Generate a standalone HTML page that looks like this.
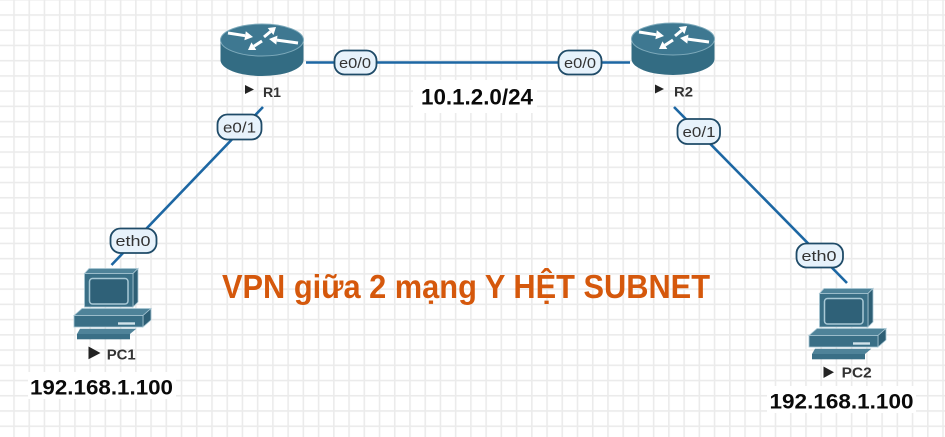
<!DOCTYPE html>
<html>
<head>
<meta charset="utf-8">
<style>
  html, body { margin:0; padding:0; background:#fff; }
  body { width:945px; height:437px; overflow:hidden; }
  svg { display:block; }
  .pill { fill:#e7f2fb; stroke:#1f4b68; stroke-width:1.8; }
  .ptxt { font-family:"Liberation Sans", sans-serif; font-size:15px; fill:#333; }
  .lbl { font-family:"Liberation Sans", sans-serif; font-weight:bold; fill:#333; }
  .ip { font-family:"Liberation Sans", sans-serif; font-weight:bold; fill:#0a0a0a; }
</style>
</head>
<body>
<svg width="945" height="437" viewBox="0 0 945 437" xmlns="http://www.w3.org/2000/svg">
  <defs>
    <pattern id="grid" patternUnits="userSpaceOnUse" x="13.2" y="14.2" width="15.23" height="15.23">
      <rect x="0" y="0" width="1.6" height="15.23" fill="#ebebeb"/>
      <rect x="0" y="0" width="15.23" height="1.6" fill="#ebebeb"/>
    </pattern>
    <g id="router">
      <path d="M220.5 40 L220.5 60 A41.5 16 0 0 0 303.5 60 L303.5 40 Z" fill="#336c83"/>
      <ellipse cx="262" cy="40" rx="41.5" ry="16" fill="#3e7891" stroke="#7eaabb" stroke-width="1"/>
      <line x1="228" y1="33" x2="245.1" y2="35.7" stroke="#fff" stroke-width="3"/>
      <polygon points="253,37 244.4,40.2 245.8,31.3" fill="#fff"/>
      <line x1="298" y1="43" x2="276.9" y2="40.1" stroke="#fff" stroke-width="3"/>
      <polygon points="269,39 277.5,35.6 276.3,44.6" fill="#fff"/>
      <line x1="264" y1="37" x2="270.6" y2="31.5" stroke="#fff" stroke-width="3"/>
      <polygon points="276,27 273.5,35 267.7,28" fill="#fff"/>
      <line x1="262" y1="41" x2="253.9" y2="46.2" stroke="#fff" stroke-width="3"/>
      <polygon points="248,50 251.5,42.4 256.3,50" fill="#fff"/>
    </g>
    <g id="pc">
      <polygon points="84.5,273.5 89,268.5 138,268.5 133,273.5" fill="#4f8399" stroke="#a9c7d4" stroke-width="0.8"/>
      <polygon points="133,273.5 138,268.5 138,302 133,307" fill="#2e5f75" stroke="#a9c7d4" stroke-width="0.8"/>
      <rect x="84.5" y="273.5" width="48.5" height="33.5" fill="#3a6f86" stroke="#a9c7d4" stroke-width="0.8"/>
      <rect x="89.5" y="278.5" width="38.5" height="25.5" rx="3" fill="#2f6178" stroke="#a9c9d6" stroke-width="1.5"/>
      <polygon points="74,315.5 82,308.5 151,308.5 143,315.5" fill="#4f8399" stroke="#a9c7d4" stroke-width="0.8"/>
      <polygon points="143,315.5 151,308.5 151,320 143,327" fill="#2e5f75" stroke="#a9c7d4" stroke-width="0.8"/>
      <rect x="74" y="315.5" width="69" height="11.5" fill="#3a6f86" stroke="#a9c7d4" stroke-width="0.8"/>
      <rect x="118" y="322.3" width="17" height="2.4" fill="#d2e3ea"/>
      <polygon points="77,334 80,328.7 136.3,328.7 130,334" fill="#4f8399"/>
      <rect x="77" y="334" width="53" height="5.3" fill="#3a6f86"/>
    </g>
  </defs>

  <rect x="0" y="0" width="945" height="437" fill="#fff"/>
  <rect x="0" y="0" width="945" height="437" fill="url(#grid)"/>

  <g stroke="#1d67a3" stroke-width="2.6" fill="none">
    <line x1="306" y1="62.5" x2="630" y2="62.5"/>
    <line x1="263" y1="107" x2="111.5" y2="265"/>
    <line x1="674" y1="107" x2="847" y2="283"/>
  </g>

  <use href="#router"/>
  <use href="#router" transform="translate(411,-1)"/>
  <use href="#pc"/>
  <use href="#pc" transform="translate(735,20)"/>

  <rect class="pill" x="334.5" y="50.5" width="42" height="24" rx="10"/>
  <text class="ptxt" x="339" y="68" textLength="32" lengthAdjust="spacingAndGlyphs">e0/0</text>

  <rect class="pill" x="558.5" y="50.5" width="43" height="24" rx="10"/>
  <text class="ptxt" x="564" y="68" textLength="32" lengthAdjust="spacingAndGlyphs">e0/0</text>

  <rect class="pill" x="217.5" y="114.5" width="44" height="25" rx="10"/>
  <text class="ptxt" x="223" y="132.5" textLength="33" lengthAdjust="spacingAndGlyphs">e0/1</text>

  <rect class="pill" x="677.5" y="119" width="42.5" height="25" rx="10"/>
  <text class="ptxt" x="682.5" y="137" textLength="33" lengthAdjust="spacingAndGlyphs">e0/1</text>

  <rect class="pill" x="110.5" y="228.5" width="46" height="24.5" rx="10"/>
  <text class="ptxt" x="115.5" y="246" textLength="35" lengthAdjust="spacingAndGlyphs">eth0</text>

  <rect class="pill" x="796.5" y="243.5" width="46.5" height="24" rx="10"/>
  <text class="ptxt" x="801.5" y="261" textLength="35" lengthAdjust="spacingAndGlyphs">eth0</text>

  <polygon points="245,85 245,94 254,89.5" fill="#222"/>
  <text class="lbl" x="263" y="97" font-size="14" textLength="18" lengthAdjust="spacingAndGlyphs">R1</text>

  <polygon points="655,84.5 655,93.5 664,89" fill="#222"/>
  <text class="lbl" x="674" y="96.7" font-size="14" textLength="19" lengthAdjust="spacingAndGlyphs">R2</text>

  <polygon points="88.5,346.5 88.5,359.3 100.5,353" fill="#222"/>
  <text class="lbl" x="106.7" y="359.3" font-size="15" textLength="29" lengthAdjust="spacingAndGlyphs">PC1</text>

  <polygon points="823.5,366.5 823.5,378 834,372.2" fill="#222"/>
  <text class="lbl" x="841.7" y="377.6" font-size="15" textLength="30" lengthAdjust="spacingAndGlyphs">PC2</text>

  <rect x="413" y="80" width="124" height="33" fill="#fff"/>
  <text class="ip" x="421" y="104.3" font-size="22" textLength="112" lengthAdjust="spacingAndGlyphs">10.1.2.0/24</text>

  <rect x="28" y="372" width="148" height="27" fill="#fff"/>
  <text class="ip" x="30" y="394.5" font-size="21" textLength="143" lengthAdjust="spacingAndGlyphs">192.168.1.100</text>

  <rect x="767" y="386" width="149" height="27" fill="#fff"/>
  <text class="ip" x="769.5" y="408.5" font-size="21" textLength="144" lengthAdjust="spacingAndGlyphs">192.168.1.100</text>

  <text x="222" y="298" font-family="'Liberation Sans', sans-serif" font-weight="bold" font-size="33" fill="#d5580c" textLength="488" lengthAdjust="spacingAndGlyphs">VPN giữa 2 mạng Y HỆT SUBNET</text>
</svg>
</body>
</html>
